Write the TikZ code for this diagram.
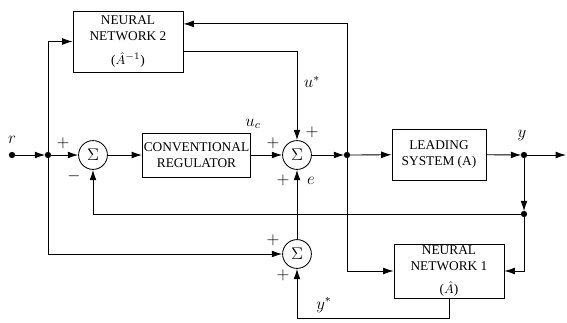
\documentclass[tikz,border=0pt]{standalone}
\usepackage{amsmath}
\usepackage{fontspec}
\setmainfont{Liberation Serif}
\usetikzlibrary{arrows.meta,positioning,calc}
\tikzset{
    block/.style={draw,rectangle,align=center,line width=0.6pt,inner sep=1pt,font=\fontsize{9.5}{11.5}\selectfont},
    sum/.style={draw,circle,minimum size=0.72cm,inner sep=0pt,line width=0.6pt,font=\large},
    dot/.style = {draw,fill,circle,inner sep=0pt,outer sep=0pt,minimum size=4pt},
    line/.style={-,line width=0.6pt},
    arr/.style={-{Latex[length=2.6mm,width=1.7mm]},line width=0.6pt},
    sgn/.style={font=\large,inner sep=0pt},
    sig/.style={font=\large,inner sep=1pt},
}

\begin{document}
\begin{tikzpicture}[x=0.025cm,y=-0.025cm]
                \useasboundingbox (0,0) rectangle (567,323);
                % blocks
                \node[block,minimum width=2.75cm,minimum height=1.525cm] (nn2) at (128,41.5) {NEURAL\\NETWORK 2\\[6pt]($\hat{A}^{-1}$)};
                \node[block,minimum width=2.575cm,minimum height=1.1cm] (reg) at (196.5,155) {CONVENTIONAL\\REGULATOR};
                \node[block,minimum width=2.35cm,minimum height=1.275cm] (ls) at (439,154.5) {LEADING\\SYSTEM (A)};
                \node[block,minimum width=2.75cm,minimum height=1.35cm] (nn1) at (449,271) {NEURAL\\NETWORK 1\\[5pt]($\hat{A}$)};
                % summing points
                \node[sum] (s1) at (93,155) {$\Sigma$};
                \node[sum] (s2) at (297,155) {$\Sigma$};
                \node[sum] (s3) at (297,254) {$\Sigma$};
                % junctions
                \node[dot] (r) at (12,155) {};
                \node[dot] (j1) at (48,155) {};
                \node[dot] (j2) at (347,155) {};
                \node[dot] (jy) at (524,155) {};
                \node[dot] (jf) at (524,214) {};
                \coordinate (out) at (566,155);
                \coordinate (yb) at (297,318);
                % signals
                \node[sig] (lr) at (12,140) {$r$};
                \node[sig] (luc) at (253,124) {$u_c$};
                \node[sig] (lus) at (312,82) {$u^{*}$};
                \node[sig] (le) at (311,181) {$e$};
                \node[sig] (ly) at (522,136) {$y$};
                \node[sig] (lys) at (324,305) {$y^{*}$};
                % signs
                \node[sgn] (p1) at (63,143) {$+$};
                \node[sgn] (m1) at (74,176) {$-$};
                \node[sgn] (p2) at (273,143) {$+$};
                \node[sgn] (p3) at (312,132) {$+$};
                \node[sgn] (p4) at (283,180) {$+$};
                \node[sgn] (p5) at (273,240) {$+$};
                \node[sgn] (p6) at (283,275) {$+$};
                % forward path
                \draw[arr] (r) -- (j1);
                \draw[arr] (j1) -- (s1);
                \draw[arr] (s1) -- (reg);
                \draw[arr] (reg) -- (s2);
                \draw[arr] (s2) -- (j2);
                \draw[arr] (j2) -- (ls);
                \draw[arr] (ls) -- (jy);
                \draw[arr] (jy) -- (out);
                % feedback
                \draw[arr] (jy) -- (jf);
                \draw[arr] (jf) -| (s1);
                \draw[arr] (jf) |- (nn1);
                \draw[arr] (j2) |- (nn1);
                \draw[arr] (j2) |- ([yshift=0.44cm]nn2.east);
                \draw[arr] ([yshift=-0.24cm]nn2.east) -| (s2);
                \draw[arr] (j1) |- (nn2);
                \draw[arr] (j1) |- (s3);
                \draw[arr] (s3) -- (s2);
                \draw[arr] (nn1) |- (yb) -- (s3);
            \end{tikzpicture}
\end{document}
